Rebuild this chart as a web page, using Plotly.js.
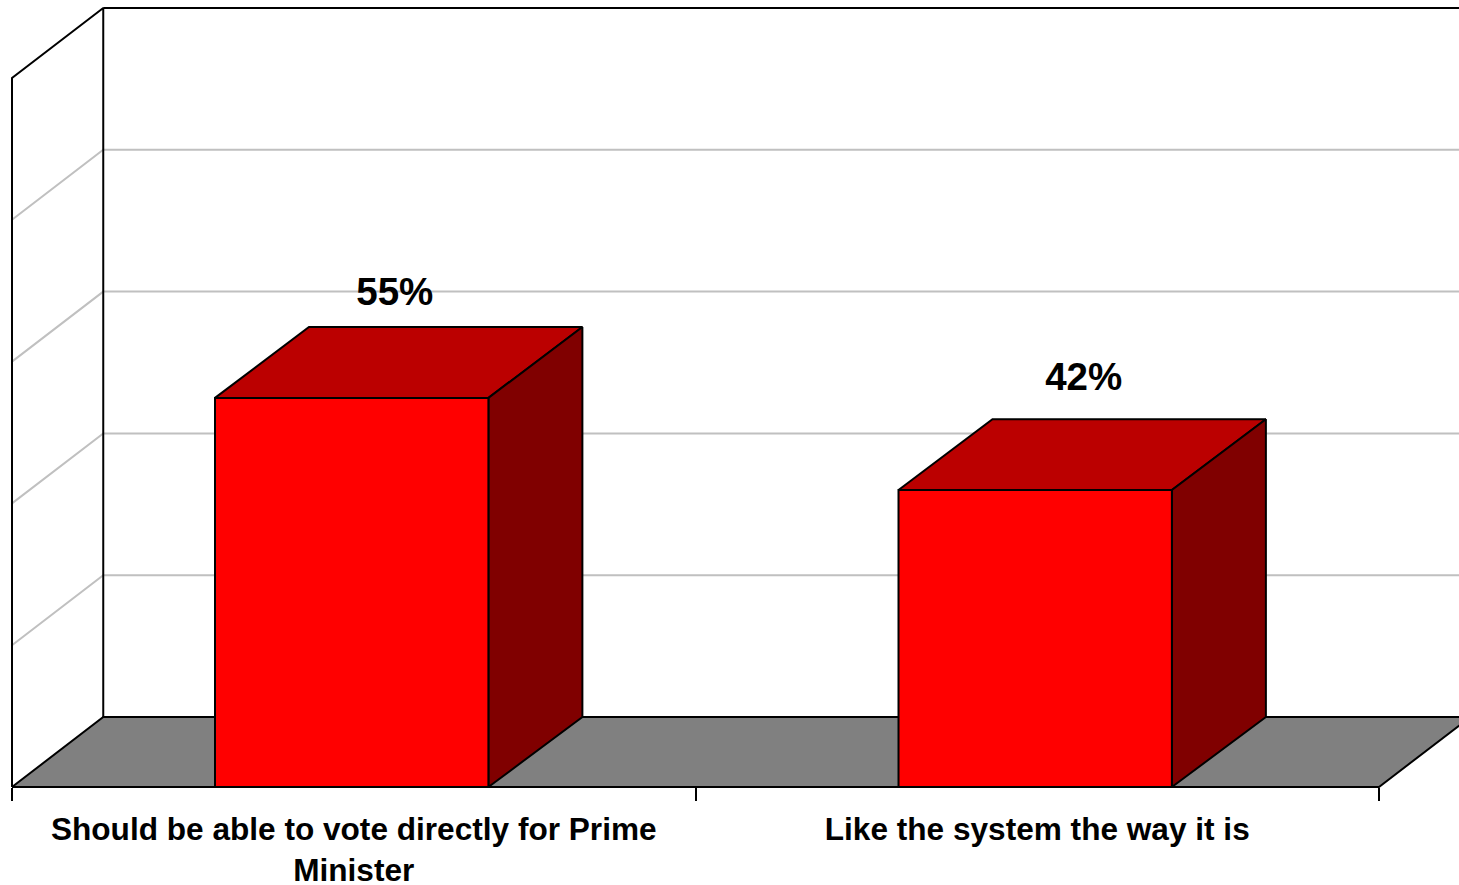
<!DOCTYPE html>
<html>
<head>
<meta charset="utf-8">
<script src="https://cdn.plot.ly/plotly-3.0.1.min.js"></script>
<style>html,body{margin:0;padding:0;background:#fff;overflow:hidden}#chart{width:1459px;height:885px}</style>
</head>
<body>
<div id="chart"></div>
<script>
// Data
const categories = ["Should be able to vote directly for Prime<br>Minister", "Like the system the way it is"];
const shares = [55, 42];
const shareLabels = ["55%", "42%"];
const gridValues = [20, 40, 60, 80];
const axisMax = 100;
const labelShiftX = [0.06, 0.068];
const labelShiftY = [4.5, 5.5];

// Pseudo-3D geometry, in axis units
const depthX = 0.1335, depthY = 9.87, halfBar = 0.2;
const barDepthX = 0.1375, barFrontDrop = 0.12, barCentreShift = -0.003;
const pxPerCat = 683.5, pxPerVal = 7.09;

const BLACK = '#000000', GRID = '#c0c0c0';
const traces = [];
function poly(xs, ys, fill, color, w) {
  traces.push({
    type: 'scatter', mode: 'lines', x: xs, y: ys, hoverinfo: 'skip', showlegend: false, cliponaxis: true,
    fill: fill ? 'toself' : 'none', fillcolor: fill || undefined,
    line: {color: color, width: w === undefined ? 2 : w, simplify: false}
  });
}
const nCat = categories.length;

// Walls and gridlines
gridValues.forEach(v => {
  poly([0, depthX, nCat + depthX + 0.2], [v, v + depthY, v + depthY], null, GRID, 2);
});
poly([0, 0, depthX, depthX], [0, axisMax, axisMax + depthY, depthY], null, BLACK);
poly([depthX, nCat + depthX + 0.2], [axisMax + depthY, axisMax + depthY], null, BLACK);

// Floor
poly([0, depthX, nCat + depthX, nCat, 0], [0, depthY, depthY, 0, 0], '#808080', BLACK);
poly([0, nCat], [0, 0], null, BLACK);

// Bars
shares.forEach((v, i) => {
  const c = i + 0.5 + barCentreShift, l = c - halfBar, r = c + halfBar;
  const f = v - barFrontDrop, b = v + depthY;
  poly([l, l + barDepthX, r + barDepthX, r, l], [f, b, b, f, f], '#bb0000', BLACK);
  poly([r, r + barDepthX, r + barDepthX, r, r], [0, depthY, b, f, 0], '#800000', BLACK);
  poly([l, r, r, l, l], [0, 0, f, f, 0], '#ff0000', BLACK);
});

// Data labels
traces.push({
  type: 'scatter', mode: 'text', hoverinfo: 'skip', showlegend: false, cliponaxis: false,
  x: shares.map((v, i) => i + 0.5 + labelShiftX[i]),
  y: shares.map((v, i) => v + depthY + labelShiftY[i]),
  text: shareLabels, textposition: 'middle center',
  textfont: {family: 'Liberation Sans, Arial, sans-serif', size: 38.5, weight: 700, color: BLACK}
});

const layout = {
  width: 1459, height: 885,
  margin: {l: 0, r: 0, t: 0, b: 0},
  paper_bgcolor: '#ffffff', plot_bgcolor: '#ffffff',
  showlegend: false, hovermode: false,
  xaxis: {
    range: [-12 / pxPerCat, 1447 / pxPerCat],
    anchor: 'free', position: (885 - 787) / 885,
    showgrid: false, zeroline: false, showline: false,
    tickmode: 'array',
    tickvals: categories.map((c, i) => i + 0.5),
    ticktext: categories,
    ticks: '', ticklen: 0,
    ticklabelstandoff: 20,
    tickfont: {family: 'Liberation Sans, Arial, sans-serif', size: 31.6, weight: 700, color: BLACK},
    minor: {tickmode: 'array', tickvals: [0, 1, 2], ticks: 'outside', ticklen: 13, tickwidth: 2, tickcolor: BLACK, showgrid: false}
  },
  yaxis: {
    range: [-(885 - 787) / pxPerVal, 787 / pxPerVal],
    visible: false, showgrid: false, zeroline: false
  }
};
Plotly.newPlot('chart', traces, layout, {displayModeBar: false, staticPlot: true});
</script>
</body>
</html>
